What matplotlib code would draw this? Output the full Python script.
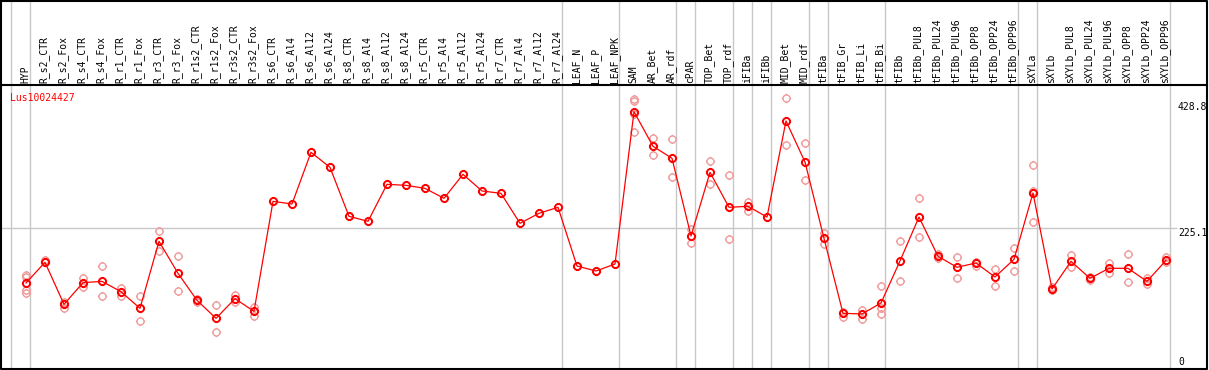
import matplotlib

matplotlib.use("Agg")
import matplotlib.pyplot as plt
from matplotlib.path import Path
from matplotlib.transforms import blended_transform_factory

gene = "Lus10024427"

samples = [
    "HYP", "R_s2_CTR", "R_s2_Fox", "R_s4_CTR", "R_s4_Fox", "R_r1_CTR", "R_r1_Fox",
    "R_r3_CTR", "R_r3_Fox", "R_r1s2_CTR", "R_r1s2_Fox", "R_r3s2_CTR", "R_r3s2_Fox",
    "R_s6_CTR", "R_s6_Al4", "R_s6_Al12", "R_s6_Al24", "R_s8_CTR", "R_s8_Al4",
    "R_s8_Al12", "R_s8_Al24", "R_r5_CTR", "R_r5_Al4", "R_r5_Al12", "R_r5_Al24",
    "R_r7_CTR", "R_r7_Al4", "R_r7_Al12", "R_r7_Al24", "LEAF_N", "LEAF_P", "LEAF_NPK",
    "SAM", "AR_Bet", "AR_rdf", "cPAR", "TOP_Bet", "TOP_rdf", "iFIBa", "iFIBb",
    "MID_Bet", "MID_rdf", "tFIBa", "tFIB_Gr", "tFIB_Li", "tFIB_Bi", "tFIBb",
    "tFIBb_PUL8", "tFIBb_PUL24", "tFIBb_PUL96", "tFIBb_OPP8", "tFIBb_OPP24",
    "tFIBb_OPP96", "sXYLa", "sXYLb", "sXYLb_PUL8", "sXYLb_PUL24", "sXYLb_PUL96",
    "sXYLb_OPP8", "sXYLb_OPP24", "sXYLb_OPP96",
]

means = [
    129.5, 165.7, 92.3, 130.1, 132.4, 114.4, 85.3, 202.4, 146.4, 99.3, 67.8, 102.2, 80.0,
    272.2, 267.6, 357.9, 331.6, 246.0, 237.3, 301.9, 300.2, 294.9, 277.5, 319.4, 290.3,
    286.2, 233.8, 251.3, 261.8, 159.2, 150.5, 162.7, 428.8, 368.4, 347.4, 211.7, 322.9,
    261.8, 263.5, 244.8, 412.6, 340.9, 207.6, 76.6, 75.4, 94.6, 168.0, 244.8, 176.2,
    157.0, 164.5, 140.0, 170.9, 286.8, 119.1, 167.4, 137.7, 155.2, 155.2, 132.4, 169.1,
]

replicates = [
    [143.6, 140.6, 117.3, 112.6], [169.7, 166.8], [96.9, 86.4], [138.8, 123.1],
    [158.7, 106.3], [121.4, 107.4], [106.8, 62.6], [219.8, 184.9], [176.7, 115.0],
    [101.1, 96.9], [90.6, 43.9], [109.1, 96.3], [88.2, 72.4],
    [], [], [], [], [], [], [], [], [], [], [], [], [], [], [], [], [], [], [],
    [451.0, 447.0, 425.0, 393.0], [382.3, 352.6], [380.5, 314.2], [224.4, 200.0],
    [342.7, 302.0], [317.7, 205.9], [271.6, 255.8], [], [452.2, 370.1], [374.1, 309.5],
    [217.4, 197.7], [78.3, 69.6], [82.4, 66.6], [123.7, 85.3, 74.9], [202.4, 133.0],
    [277.5, 209.4], [180.2, 173.8], [175.0, 137.7], [166.8, 159.8], [153.5, 124.3],
    [190.2, 150.0], [335.2, 290.8, 235.5], [122.0, 117.3], [178.5, 158.0],
    [140.6, 134.8], [165.0, 146.5], [180.2, 130.8], [138.3, 127.3], [175.5, 165.7],
]

# group separators sit just right of these samples
group_ends = [-1, 0, 28, 31, 34, 35, 37, 38, 39, 41, 42, 45, 52, 53, 60]
y_labels = [428.8, 225.1, 0]

W, H = 1209, 370
fig = plt.figure(figsize=(W / 100, H / 100), dpi=100)
ax = fig.add_axes([1 / W, 2 / H, 1206 / W, 283 / H])
ax.set_xlim((1 - 26) / 19, (1207 - 26) / 19)
ax.set_ylim((357.15 - 368) / 0.5724, (357.15 - 85) / 0.5724)
ax.axis("off")

# circle with four short ticks
ticks = [Path([[0, 1.0], [0, 1.3]]), Path([[0, -1.0], [0, -1.3]]),
         Path([[1.0, 0], [1.3, 0]]), Path([[-1.0, 0], [-1.3, 0]])]
marker = Path.make_compound_path(Path.unit_circle(), *ticks)

font = dict(family="DejaVu Sans Mono", fontsize=7)

for i, reps in enumerate(replicates):
    if reps:
        ax.plot([i] * len(reps), reps, linestyle="none", marker=marker, markersize=6.6,
                markerfacecolor="none", markeredgecolor="#f09a9a", markeredgewidth=1.0,
                zorder=2, clip_on=False)

x = list(range(len(samples)))
ax.plot(x, means, color="red", linewidth=0.9, zorder=3)
ax.plot(x, means, linestyle="none", marker=marker, markersize=6.6, markerfacecolor="none",
        markeredgecolor="red", markeredgewidth=1.4, zorder=4)

fig_x = blended_transform_factory(ax.transData, fig.transFigure)
for k in group_ends:
    ax.vlines(k + 4 / 19, 2 / H, 1, transform=fig_x, color="#c8c8c8", linewidth=1.0,
              zorder=1, clip_on=False)

ax.hlines(225.1, (1 - 26) / 19, (1177 - 26) / 19, color="#c8c8c8", linewidth=1.0, zorder=1)

for i, name in enumerate(samples):
    ax.text(i - 0.05, (H - 83) / H, name, transform=fig_x, rotation=90, ha="center",
            va="bottom", **font)

label_x = (1178 - 26) / 19
ax.text(label_x, y_labels[0], f"{y_labels[0]}", va="bottom", ha="left", **font)
ax.text(label_x, y_labels[1], f"{y_labels[1]}", va="top", ha="left", **font)
ax.text(label_x, y_labels[2], f"{y_labels[2]}", va="top", ha="left", **font)

fig.text(10 / W, (H - 101) / H, gene, color="red", ha="left", va="baseline", **font)

# frame and header divider
frame = fig.add_axes([0, 0, 1, 1], facecolor="none")
frame.set_xlim(0, W)
frame.set_ylim(H, 0)
frame.axis("off")
frame.plot([1, 1207, 1207, 1, 1], [0.5, 0.5, 368.5, 368.5, 0.5], color="black", linewidth=1.5)
frame.plot([1, 1207], [85, 85], color="black", linewidth=1.5)

fig.savefig("out.png", dpi=100)
